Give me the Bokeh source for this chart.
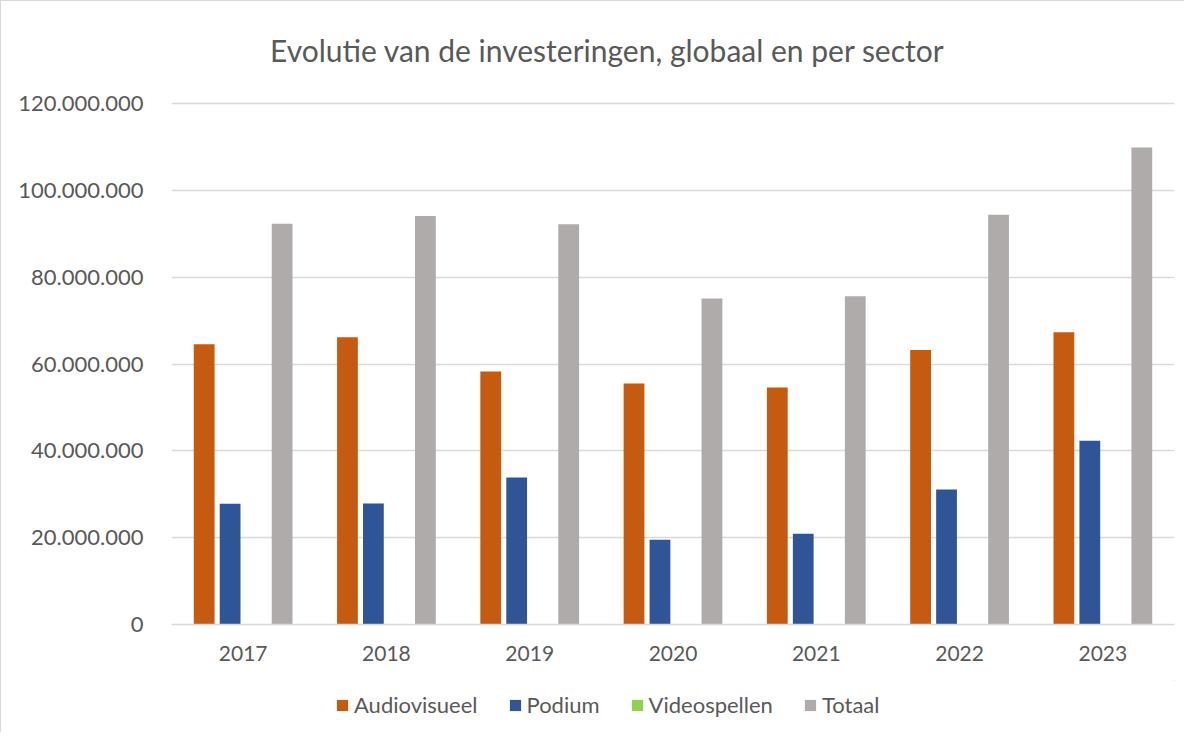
from bokeh.plotting import figure
from bokeh.layouts import column
from bokeh.models import (FactorRange, Range1d, Legend, LegendItem, CustomJSTickFormatter,
                          ColumnDataSource, FixedTicker, Label)
from bokeh.transform import dodge
from bokeh.embed import file_html
from bokeh.resources import INLINE

years = ["2017", "2018", "2019", "2020", "2021", "2022", "2023"]
audiovisueel = [64.55e6, 66.15e6, 58.3e6, 55.5e6, 54.6e6, 63.2e6, 67.3e6]
podium = [27.8e6, 27.85e6, 33.85e6, 19.5e6, 20.9e6, 31.1e6, 42.3e6]
videospellen = [0, 0, 0, 0, 0, 0, 0]
totaal = [92.3e6, 94.1e6, 92.2e6, 75.1e6, 75.6e6, 94.4e6, 109.85e6]
y_ticks = [0, 20e6, 40e6, 60e6, 80e6, 100e6, 120e6]
title_text = "Evolutie van de investeringen, globaal en per sector"

series_names = ["Audiovisueel", "Podium", "Videospellen", "Totaal"]
colors = ["#C55A11", "#2F5597", "#92D050", "#AFABAB"]
offsets = [-0.272, -0.091, 0.091, 0.272]

src = ColumnDataSource(dict(year=years, Audiovisueel=audiovisueel, Podium=podium,
                            Videospellen=videospellen, Totaal=totaal))

FONT = "Lato"
TXT = "#595959"
GRID = "#D9D9D9"

# frame runs from y=20 to y=623 px; 120M spans 521 px, so the top of the range leaves room for the title
y_top = 120e6 * 603 / 521

p = figure(width=1184, height=680, x_range=FactorRange(*years), y_range=Range1d(0, y_top),
           output_backend="svg", toolbar_location=None,
           min_border_left=170, min_border_right=11, min_border_top=20, min_border_bottom=57)

title = Label(x=436, y=575, x_units="screen", y_units="screen", text=title_text,
              text_align="center", text_baseline="alphabetic", text_font=FONT,
              text_font_size="30px", text_color=TXT)
p.add_layout(title)

renderers = []
for name, col, off in zip(series_names, colors, offsets):
    r = p.vbar(x=dodge("year", off, range=p.x_range), top=name, width=0.145, source=src,
               fill_color=col, line_color=None)
    renderers.append(r)

p.outline_line_color = None
p.xgrid.grid_line_color = None
p.ygrid.grid_line_color = GRID
p.ygrid.grid_line_width = 1.5

p.yaxis.ticker = FixedTicker(ticks=y_ticks)
p.yaxis.formatter = CustomJSTickFormatter(code="""
return Math.round(tick).toString().replace(/\\B(?=(\\d{3})+(?!\\d))/g, ".");
""")
p.yaxis.axis_line_color = None
p.yaxis.major_tick_line_color = None
p.yaxis.minor_tick_line_color = None
p.yaxis.major_label_standoff = 22
p.yaxis.major_label_text_font_size = "22px"

p.xaxis.axis_line_color = GRID
p.xaxis.axis_line_width = 1.5
p.xaxis.major_tick_line_color = None
p.xaxis.minor_tick_line_color = None
p.xaxis.major_label_standoff = 15
p.xaxis.major_label_text_font_size = "21px"

for ax in (p.xaxis, p.yaxis):
    ax.major_label_text_font = FONT
    ax.major_label_text_color = TXT

p.styles = {"border-left": "1px solid #D9D9D9", "border-top": "1px solid #D9D9D9"}

# legend strip below the chart (swatch renderers sit outside the visible range)
pl = figure(width=1184, height=52, x_range=Range1d(0, 1), y_range=Range1d(0, 1),
            output_backend="svg", toolbar_location=None,
            min_border_left=0, min_border_right=0, min_border_top=0, min_border_bottom=0)
pl.axis.visible = False
pl.grid.visible = False
pl.outline_line_color = None
swatches = []
for col in colors:
    swatches.append(pl.vbar(x=[5], top=[5], bottom=[4], width=0.1, fill_color=col, line_color=None))

legend = Legend(items=[LegendItem(label=n, renderers=[r]) for n, r in zip(series_names, swatches)],
                orientation="horizontal", location=(164, 14))
legend.border_line_color = None
legend.background_fill_alpha = 0
legend.label_text_font = FONT
legend.label_text_font_size = "22px"
legend.label_text_color = TXT
legend.glyph_width = 14
legend.glyph_height = 14
legend.label_standoff = 5
legend.spacing = 30
legend.margin = 0
legend.padding = 4
pl.add_layout(legend, "center")
pl.styles = {"border-left": "1px solid #D9D9D9"}

layout = column(p, pl, spacing=0)
open("out.html", "w").write(file_html(layout, INLINE))
